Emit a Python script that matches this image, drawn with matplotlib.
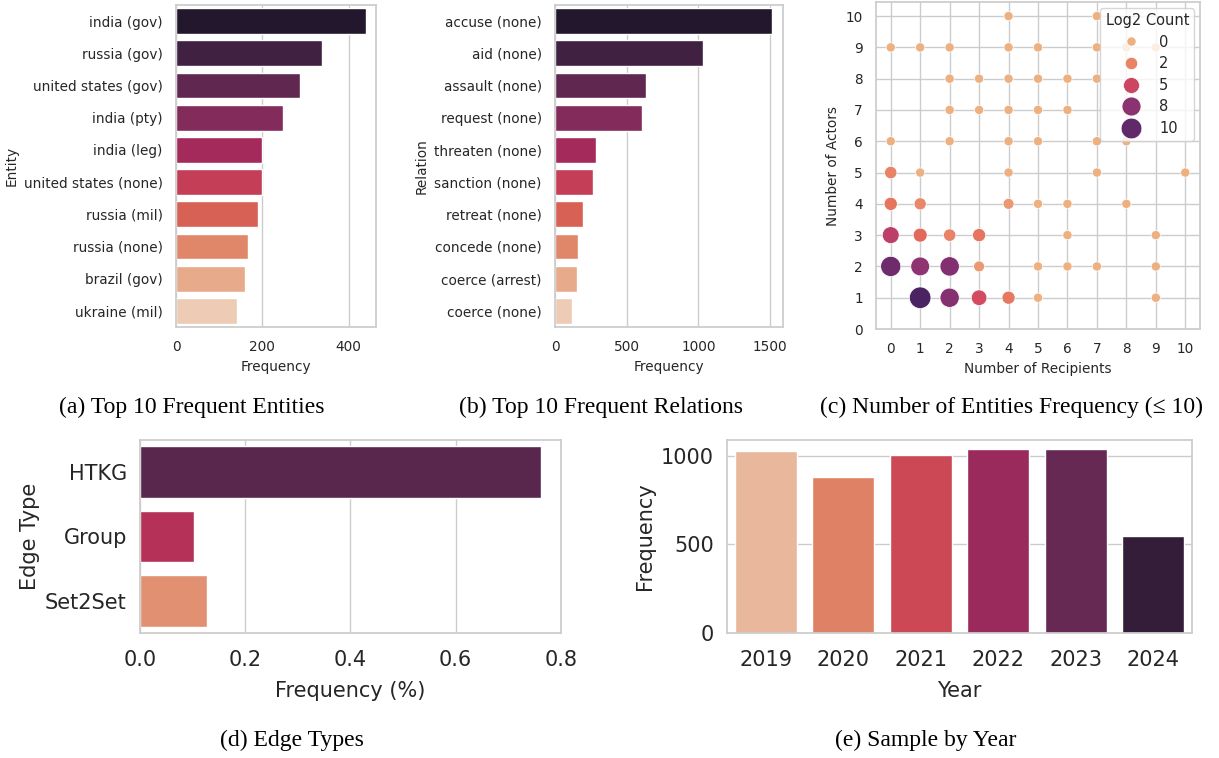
import matplotlib
matplotlib.use("Agg")
import matplotlib.pyplot as plt
import seaborn as sns
from matplotlib.colors import Normalize
from matplotlib.lines import Line2D

# (a) most frequent entities
entities = ["india (gov)", "russia (gov)", "united states (gov)", "india (pty)",
            "india (leg)", "united states (none)", "russia (mil)", "russia (none)",
            "brazil (gov)", "ukraine (mil)"]
entity_freq = [441, 337, 287, 248, 199, 198, 190, 167, 160, 142]

# (b) most frequent relations
relations = ["accuse (none)", "aid (none)", "assault (none)", "request (none)",
             "threaten (none)", "sanction (none)", "retreat (none)", "concede (none)",
             "coerce (arrest)", "coerce (none)"]
relation_freq = [1515, 1034, 635, 607, 285, 268, 198, 161, 154, 119]

# (c) number of recipients / actors per event, log2 of the count
recipients = [4, 7,
              0, 1, 2, 4, 5, 7, 8, 9,
              2, 3, 4, 5, 6, 7,
              2, 3, 4, 5, 6, 8,
              0, 2, 4, 5, 7, 8,
              0, 1, 4, 7, 10,
              0, 1, 4, 5, 6, 8,
              0, 1, 2, 3, 6, 9,
              0, 1, 2, 3, 5, 6, 7, 9,
              1, 2, 3, 4, 5, 9]
actors = [10, 10,
          9, 9, 9, 9, 9, 9, 9, 9,
          8, 8, 8, 8, 8, 8,
          7, 7, 7, 7, 7, 7,
          6, 6, 6, 6, 6, 6,
          5, 5, 5, 5, 5,
          4, 4, 4, 4, 4, 4,
          3, 3, 3, 3, 3, 3,
          2, 2, 2, 2, 2, 2, 2, 2,
          1, 1, 1, 1, 1, 1]
log2_count = [0, 0,
              0, 0, 0, 0, 0, 0, 0, 0,
              0, 0, 0, 0, 0, 0,
              0, 0, 0, 0, 0, 0,
              0, 0, 0, 0, 0, 0,
              2, 0, 0, 0, 0,
              2.6, 1.8, 1, 0, 0, 0,
              5.8, 3.2, 2, 2.6, 0, 0,
              9.3, 7.8, 8.4, 1, 0, 0, 0, 0,
              11.0, 8.3, 4.6, 2.5, 0, 0]
legend_levels = [0, 2, 5, 8, 10]

# (d) edge types
edge_types = ["HTKG", "Group", "Set2Set"]
edge_share = [0.762, 0.103, 0.127]

# (e) samples per year
years = ["2019", "2020", "2021", "2022", "2023", "2024"]
year_freq = [1025, 881, 1006, 1036, 1036, 544]

sns.set_theme(style="whitegrid")
plt.rcParams["font.family"] = ["DejaVu Sans"]

W, H = 1219, 758
fig = plt.figure(figsize=(W / 100, H / 100), dpi=100)


def box(x0, x1, y0, y1):
    return fig.add_axes([x0 / W, 1 - y1 / H, (x1 - x0) / W, (y1 - y0) / H])


small = 9.8
big = 15

# (a)
ax = box(176, 376, 5, 327)
sns.barplot(x=entity_freq, y=entities, hue=entities, palette="rocket",
            legend=False, ax=ax)
ax.set_xlabel("Frequency", fontsize=small)
ax.set_ylabel("Entity", fontsize=small)
ax.set_xticks([0, 200, 400])
ax.tick_params(labelsize=small)

# (b)
ax = box(555, 783, 5, 327)
sns.barplot(x=relation_freq, y=relations, hue=relations, palette="rocket",
            legend=False, ax=ax)
ax.set_xlabel("Frequency", fontsize=small)
ax.set_ylabel("Relation", fontsize=small)
ax.set_xticks([0, 500, 1000, 1500])
ax.tick_params(labelsize=small)

# (c)
ax = box(876, 1200, 2, 329)
cmap = sns.color_palette("flare", as_cmap=True)
norm = Normalize(vmin=0, vmax=max(log2_count))
s_min, s_max = 44, 240


def size_of(v):
    return s_min + (v - norm.vmin) / (norm.vmax - norm.vmin) * (s_max - s_min)


ax.scatter(recipients, actors, c=log2_count, cmap=cmap, norm=norm,
           s=[size_of(v) for v in log2_count], edgecolor="white",
           linewidth=0.5, zorder=3)
ax.set_xlim(-0.5, 10.5)
ax.set_ylim(0, 10.45)
ax.set_xticks(range(11))
ax.set_yticks(range(11))
ax.set_xlabel("Number of Recipients", fontsize=small)
ax.set_ylabel("Number of Actors", fontsize=small)
ax.tick_params(labelsize=small)
handles = [Line2D([], [], linestyle="", marker="o", markersize=size_of(v) ** 0.5,
                  markerfacecolor=cmap(norm(v)), markeredgecolor="white",
                  markeredgewidth=0.5)
           for v in legend_levels]
ax.legend(handles, [str(v) for v in legend_levels], title="Log2 Count",
          loc="upper right", fontsize=10.5, title_fontsize=10.5,
          borderpad=0.35, labelspacing=0.45, handletextpad=0.9,
          borderaxespad=0.4)

# (d)
ax = box(140, 561, 440, 633)
sns.barplot(x=edge_share, y=edge_types, hue=edge_types, palette="rocket",
            legend=False, ax=ax)
ax.set_xlabel("Frequency (%)", fontsize=big, labelpad=8)
ax.set_ylabel("Edge Type", fontsize=big)
ax.set_xticks([0.0, 0.2, 0.4, 0.6, 0.8])
ax.tick_params(labelsize=big)
ax.tick_params(axis="x", pad=6)

# (e)
ax = box(727, 1192, 440, 633)
sns.barplot(x=years, y=year_freq, hue=years, palette="rocket_r",
            legend=False, ax=ax)
ax.set_xlabel("Year", fontsize=big, labelpad=8)
ax.set_ylabel("Frequency", fontsize=big)
ax.set_yticks([0, 500, 1000])
ax.tick_params(labelsize=big)
ax.tick_params(axis="x", pad=6)

captions = [
    (192, 407, "(a) Top 10 Frequent Entities"),
    (601, 407, "(b) Top 10 Frequent Relations"),
    (1012, 407, "(c) Number of Entities Frequency (\u2264 10)"),
    (292, 740, "(d) Edge Types"),
    (926, 740, "(e) Sample by Year"),
]
for cx, cy, text in captions:
    fig.text(cx / W, 1 - cy / H, text, ha="center", va="center", fontsize=17,
             family=["Liberation Serif", "DejaVu Serif"], color="black")

fig.savefig("out.png", dpi=100)
